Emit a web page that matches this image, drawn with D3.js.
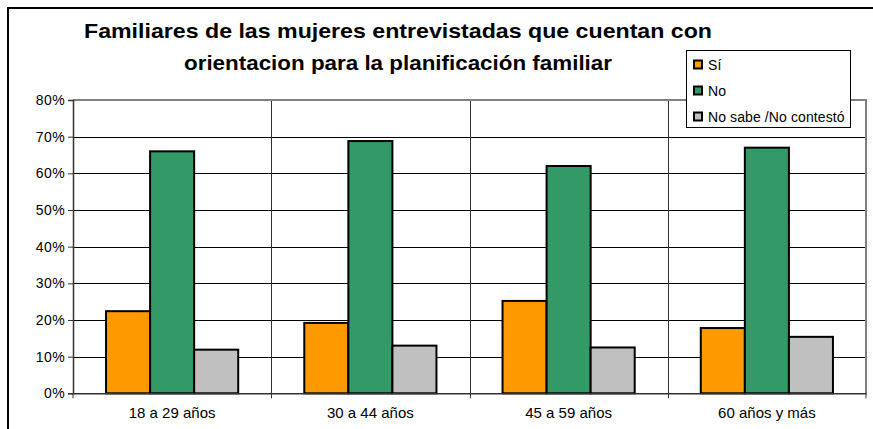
<!DOCTYPE html>
<html><head><meta charset="utf-8">
<script src="https://cdn.jsdelivr.net/npm/d3@7"></script>
<style>body{margin:0;background:#fff}svg{display:block;font-family:Arial,"Liberation Sans",sans-serif}</style>
</head><body><svg id="c" width="873" height="429"></svg>
<script>
const categories = ["18 a 29 años","30 a 44 años","45 a 59 años","60 años y más"];
const seriesNames = ["Sí","No","No sabe /No contestó"];
const si = [22.4, 19.2, 25.2, 17.8];
const no = [66.0, 68.8, 62.0, 67.0];
const nsnc = [11.9, 13.0, 12.5, 15.4];
const yTicks = [0,10,20,30,40,50,60,70,80];
const colors = ["#FF9900","#339966","#C0C0C0"];
const titleLines = ["Familiares de las mujeres entrevistadas que cuentan con","orientacion para la planificación familiar"];

const series = [si, no, nsnc];
const svg = d3.select("#c");
const L=73, R=866, T=100, B=393.3;

// outer frame
svg.append("rect").attr("x",8).attr("y",8).attr("width",880).attr("height",440)
  .attr("fill","none").attr("stroke","#000").attr("stroke-width",2);

const x = d3.scaleBand().domain(categories).range([L,R]).paddingInner(0).paddingOuter(0);
const y = d3.scaleLinear().domain([0,80]).range([B,T]);
const inner = d3.scaleBand().domain(d3.range(3)).range([0,x.bandwidth()]).paddingInner(0).paddingOuter(0.75);

// gridlines
svg.append("g").selectAll("line").data(yTicks.filter(d=>d>0&&d<80)).join("line")
  .attr("x1",L).attr("x2",R).attr("y1",d=>Math.round(y(d))+0.5).attr("y2",d=>Math.round(y(d))+0.5)
  .attr("stroke","#000").attr("stroke-width",1);
// vertical separators
svg.append("g").selectAll("line").data(categories.slice(1)).join("line")
  .attr("x1",d=>Math.round(x(d))+0.5).attr("x2",d=>Math.round(x(d))+0.5).attr("y1",T).attr("y2",B+5)
  .attr("stroke","#333").attr("stroke-width",1);
// top & right border
svg.append("path").attr("d",`M${L},${T} H${R} V${B}`).attr("fill","none").attr("stroke","#808080").attr("stroke-width",2);

// bars
const g = svg.append("g");
categories.forEach((c,i)=>{
  series.forEach((s,j)=>{
    g.append("rect").attr("x",x(c)+inner(j)).attr("y",y(s[i])).attr("width",inner.bandwidth())
     .attr("height",y(0)-y(s[i])).attr("fill",colors[j]).attr("stroke","#000").attr("stroke-width",2);
  });
});

// y axis
const ya = svg.append("g").attr("transform",`translate(${L},0)`)
  .call(d3.axisLeft(y).tickValues(yTicks).tickFormat(d=>d+"%").tickSize(5).tickPadding(3));
ya.select(".domain").attr("stroke","#333").attr("stroke-width",1.5);
ya.selectAll(".tick line").attr("stroke","#333");
ya.selectAll("text").attr("font-size",14).attr("letter-spacing",0.4).attr("fill","#000")
  .attr("font-family","Arial, 'Liberation Sans', sans-serif");

// x axis
const xa = svg.append("g").attr("transform",`translate(0,${B})`)
  .call(d3.axisBottom(x).tickSize(0).tickPadding(14));
xa.select(".domain").attr("stroke","#333").attr("stroke-width",1.5);
xa.selectAll("text").attr("font-size",15).attr("fill","#000")
  .attr("font-family","Arial, 'Liberation Sans', sans-serif");
svg.append("g").selectAll("line").data([L,R]).join("line")
  .attr("x1",d=>d).attr("x2",d=>d).attr("y1",B).attr("y2",B+5).attr("stroke","#333");

// title
const titleWidths = [628, 428];
svg.append("g").selectAll("text").data(titleLines).join("text")
  .attr("x",398).attr("y",(d,i)=>38+i*32).attr("text-anchor","middle")
  .attr("font-size",21).attr("font-weight","bold").attr("fill","#000")
  .attr("textLength",(d,i)=>titleWidths[i]).attr("lengthAdjust","spacingAndGlyphs").text(d=>d);

// legend
const lg = svg.append("g");
lg.append("rect").attr("x",686.5).attr("y",50.5).attr("width",164).attr("height",77)
  .attr("fill","#fff").attr("stroke","#000").attr("stroke-width",1);
seriesNames.forEach((n,j)=>{
  const cy = 64.5 + j*26;
  lg.append("rect").attr("x",694).attr("y",cy-4).attr("width",8).attr("height",8)
    .attr("fill",colors[j]).attr("stroke","#000").attr("stroke-width",2);
  lg.append("text").attr("x",708).attr("y",cy+5).attr("font-size",14).attr("fill","#000")
    .attr("letter-spacing",0.1).text(n);
});
</script></body></html>
